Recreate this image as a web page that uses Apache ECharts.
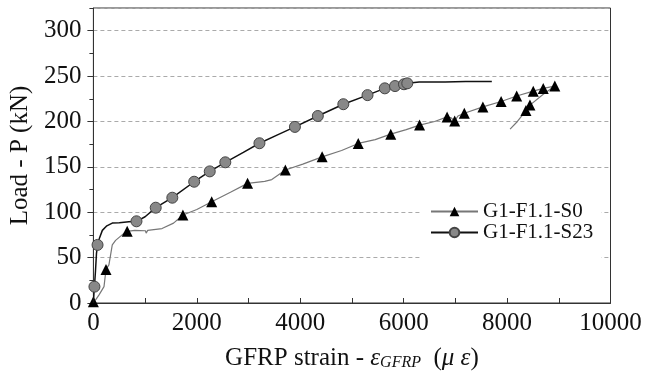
<!DOCTYPE html>
<html>
<head>
<meta charset="utf-8">
<script src="https://cdn.jsdelivr.net/npm/echarts@6/dist/echarts.min.js"></script>
<style>html,body{margin:0;padding:0;background:#fff}#c{width:646px;height:383px}</style>
</head>
<body>
<div id="c"></div>
<script>
// ---- data ----
var xTicks = [0, 2000, 4000, 6000, 8000, 10000];
var yTicks = [0, 50, 100, 150, 200, 250, 300];
var seriesNames = ['G1-F1.1-S0', 'G1-F1.1-S23'];

// G1-F1.1-S0 (triangles): strain, load, marker flag
var s0Strain = [0, 50, 109, 205, 244, 300, 333, 365, 429, 590, 654, 800, 1006, 1020, 1050, 1327, 1550, 1731, 2000, 2288, 2650, 2981, 3313, 3450, 3712, 4050, 4423, 4800, 5122, 5450, 5750, 6050, 6308, 6600, 6840, 6920, 6987, 7050, 7173, 7532, 7885, 8186, 8506, 8699, 8923, 8700, 8442, 8365, 8200, 8058];
var s0Load   = [1.5, 4, 9, 18, 37, 42, 44, 64, 69, 76.7, 79, 80, 79.6, 77, 80, 82, 88, 97, 103, 111.5, 122, 131.8, 134, 136, 146.5, 153, 161, 168, 175.8, 180, 186, 191, 196, 200, 205, 204, 200.4, 206, 209, 216, 222, 228, 233.4, 236.4, 239, 230, 218, 212, 200, 191.6];
var s0Mark   = [1, 0, 0, 0, 1, 0, 0, 0, 0, 0, 1, 0, 0, 0, 0, 0, 0, 1, 0, 1, 0, 1, 0, 0, 1, 0, 1, 0, 1, 0, 1, 0, 1, 0, 1, 0, 1, 0, 1, 1, 1, 1, 1, 1, 1, 0, 1, 1, 0, 0];

// G1-F1.1-S23 (circles)
var s23Strain = [0, 10, 20, 40, 60, 80, 120, 173, 260, 365, 500, 686, 833, 1000, 1205, 1526, 1949, 2250, 2551, 2900, 3211, 3550, 3897, 4340, 4833, 5301, 5635, 5833, 6006, 6070, 6300, 6800, 7200, 7705];
var s23Load   = [0, 10, 18, 35, 55, 64, 72, 80, 85, 88, 88.5, 89.5, 90, 95, 105, 116, 133.6, 145, 155, 166, 176, 185, 194, 206, 219, 229, 236.5, 239, 241, 242, 243.5, 243.5, 244, 244];
var s23Mark   = [0, 0, 1, 0, 0, 1, 0, 0, 0, 0, 0, 0, 1, 0, 1, 1, 1, 1, 1, 0, 1, 0, 1, 1, 1, 1, 1, 1, 1, 1, 0, 0, 0, 0];

function build(xs, ys, ms) {
  return xs.map(function (x, i) {
    var item = { value: [x, ys[i]] };
    if (!ms[i]) item.symbol = 'none';
    return item;
  });
}

var FONT = '"Liberation Serif", "Times New Roman", serif';
var chart = echarts.init(document.getElementById('c'), null, { renderer: 'canvas' });

chart.setOption({
  animation: false,
  backgroundColor: '#fff',
  textStyle: { fontFamily: FONT, color: '#000' },
  grid: { left: 91, right: 35.5, top: 8, bottom: 80, show: true, borderColor: '#333', borderWidth: 1, backgroundColor: 'transparent' },
  legend: {
    orient: 'vertical',
    left: 420, top: 170,
    padding: [31, 8, 27, 10],
    backgroundColor: '#fff',
    itemWidth: 47, itemHeight: 12, itemGap: 0,
    textStyle: { fontFamily: FONT, fontSize: 21, color: '#111', lineHeight: 17 },
    data: seriesNames
  },
  xAxis: {
    type: 'value', min: xTicks[0], max: xTicks[xTicks.length - 1], interval: xTicks[1] - xTicks[0],
    name: '{n|GFRP strain - }{e|ε}{s|GFRP}{n|  (}{e|μ ε}{n|)}',
    nameLocation: 'middle', nameGap: 40,
    nameTextStyle: {
      rich: {
        n: { fontFamily: FONT, fontSize: 25, color: '#111', lineHeight: 30, verticalAlign: 'middle' },
        e: { fontFamily: FONT, fontSize: 25, fontStyle: 'italic', color: '#111', lineHeight: 30, verticalAlign: 'middle' },
        s: { fontFamily: FONT, fontSize: 16, fontStyle: 'italic', color: '#111', lineHeight: 30, verticalAlign: 'bottom', padding: [0, 0, 2, 0] }
      }
    },
    axisLine: { show: true, lineStyle: { color: '#333', width: 1 } },
    axisTick: { show: true, inside: true, length: 5, lineStyle: { color: '#333' } },
    minorTick: { show: true, splitNumber: 2, length: 5, lineStyle: { color: '#333' } },
    axisLabel: { fontFamily: FONT, fontSize: 25, color: '#111', margin: 8,
      formatter: function (v) { return String(v); } },
    splitLine: { show: false }
  },
  yAxis: [{
    type: 'value', min: yTicks[0], max: 325, interval: yTicks[1] - yTicks[0],
    name: 'Load - P (kN)', nameLocation: 'middle', nameGap: 55,
    nameTextStyle: { fontFamily: FONT, fontSize: 25, color: '#111' },
    axisLine: { show: true, lineStyle: { color: '#333', width: 1 } },
    axisTick: { show: true, inside: false, length: 6, lineStyle: { color: '#333' } },
    axisLabel: { fontFamily: FONT, fontSize: 25, color: '#111', margin: 12, showMaxLabel: false,
      formatter: function (v) { return yTicks.indexOf(v) >= 0 ? String(v) : ''; } },
    splitLine: { show: true, lineStyle: { color: '#aaa', type: [4, 3], width: 1 } }
  }, {
    type: 'value', min: 0, max: 325, interval: 25, position: 'left',
    axisLine: { show: false },
    axisTick: { show: true, inside: false, length: 4, lineStyle: { color: '#333' } },
    axisLabel: { show: false },
    splitLine: { show: false }
  }],
  series: [{
    name: seriesNames[0], type: 'line', yAxisIndex: 0,
    data: build(s0Strain, s0Load, s0Mark),
    symbol: 'triangle', symbolSize: 11, showAllSymbol: true,
    itemStyle: { color: '#000', borderColor: '#000', borderWidth: 0 },
    lineStyle: { color: '#777', width: 1.2 },
    z: 3
  }, {
    name: seriesNames[1], type: 'line', yAxisIndex: 0,
    data: build(s23Strain, s23Load, s23Mark),
    symbol: 'circle', symbolSize: 11, showAllSymbol: true,
    itemStyle: { color: '#888', borderColor: '#444', borderWidth: 1 },
    lineStyle: { color: '#111', width: 1.5 },
    z: 4
  }]
});
</script>
</body>
</html>
